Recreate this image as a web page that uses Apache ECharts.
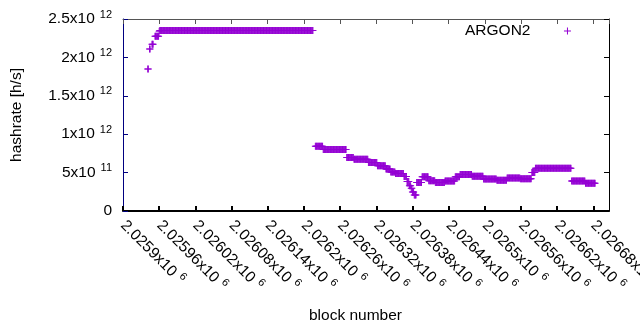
<!DOCTYPE html>
<html>
<head>
<meta charset="utf-8">
<script src="https://cdn.jsdelivr.net/npm/echarts@6/dist/echarts.min.js"></script>
<style>html,body{margin:0;padding:0;background:#fff}#c{width:640px;height:330px}</style>
</head>
<body>
<div id="c"></div>
<script>
// Runs of consecutive blocks sharing (approximately) the same hashrate
const runStart = [2025941, 2025944, 2025948, 2025953, 2025960, 2025961, 2026219, 2026232, 2026271, 2026283, 2026307, 2026322, 2026336, 2026344, 2026352, 2026366, 2026371, 2026375, 2026378, 2026380, 2026383, 2026387, 2026396, 2026407, 2026418, 2026434, 2026451, 2026459, 2026479, 2026498, 2026520, 2026537, 2026559, 2026578, 2026584, 2026644, 2026667];
const runEnd   = [2025942, 2025945, 2025950, 2025959, 2025960, 2026215, 2026231, 2026270, 2026282, 2026306, 2026321, 2026335, 2026343, 2026351, 2026365, 2026370, 2026374, 2026377, 2026379, 2026382, 2026386, 2026395, 2026406, 2026417, 2026433, 2026450, 2026458, 2026478, 2026497, 2026519, 2026536, 2026558, 2026577, 2026583, 2026643, 2026666, 2026683];
const runValueT = [1.85, 2.11, 2.17, 2.276, 2.34, 2.35, 0.842, 0.80, 0.697, 0.675, 0.632, 0.588, 0.547, 0.508, 0.488, 0.45, 0.384, 0.33, 0.296, 0.247, 0.208, 0.371, 0.447, 0.395, 0.372, 0.39, 0.447, 0.475, 0.452, 0.417, 0.40, 0.43, 0.42, 0.50, 0.556, 0.389, 0.36]; // x10^12 h/s
const seriesName = 'ARGON2';
const xMin = 2025900, xMax = 2026706, xStep = 60;
const yMin = 0, yMax = 2.5e12, yStep = 5e11;

const points = [];
for (let i = 0; i < runStart.length; i++) {
  for (let b = runStart[i]; b <= runEnd[i]; b++) points.push([b, runValueT[i] * 1e12]);
}

const FONT = 'Liberation Sans';
const FS = 15.5;
const COLOR = '#9400d3';
const plus = 'path://M0,3H7V4H0ZM3,0H4V7H3Z';

function sci(v) {
  if (v === 0) return '{m|0}';
  const e = Math.floor(Math.log10(Math.abs(v)) + 1e-9);
  const m = parseFloat((v / Math.pow(10, e)).toPrecision(6));
  return '{m|' + m + 'x10}{s|' + e + '}';
}
const rich = {
  m: { fontFamily: FONT, fontSize: FS, color: '#000' },
  s: { fontFamily: FONT, fontSize: 11, color: '#000', padding: [0, 0, 9, 5] }
};

function axLine(c, w) { return { show: true, onZero: false, lineStyle: { color: c, width: w } }; }
function axTick(c, w) { return { show: true, inside: true, length: 5, lineStyle: { color: c, width: w } }; }

const chart = echarts.init(document.getElementById('c'), null, { renderer: 'canvas' });
chart.setOption({
  animation: false,
  grid: { left: 123, right: 31, top: 19, bottom: 119, containLabel: false, outerBoundsMode: 'none' },
  legend: {
    show: true, left: 465, top: 23, padding: 0, align: 'right',
    itemWidth: 64, itemHeight: 7,
    textStyle: { fontFamily: FONT, fontSize: FS, color: '#000' },
    data: [seriesName]
  },
  xAxis: [{
    type: 'value', min: xMin, max: xMax, interval: xStep, position: 'bottom',
    axisLine: axLine('#000', 2), axisTick: axTick('#000', 2), splitLine: { show: false },
    axisLabel: { show: true, rotate: -45, margin: 12, showMaxLabel: false, formatter: v => sci(v), rich: rich },
    name: 'block number', nameLocation: 'middle', nameGap: 97,
    nameTextStyle: { fontFamily: FONT, fontSize: FS, color: '#000', padding: [0, 21, 0, 0] }
  }, {
    type: 'value', position: 'top', min: xMin, max: xMax, interval: xStep,
    axisLine: axLine('#555555', 1), axisTick: axTick('#555555', 1), splitLine: { show: false }, axisLabel: { show: false }
  }],
  yAxis: [{
    type: 'value', min: yMin, max: yMax, interval: yStep, position: 'left',
    axisLine: axLine('#000080', 1), axisTick: axTick('#000080', 1), splitLine: { show: false },
    axisLabel: { show: true, margin: 11, formatter: v => sci(v), rich: rich },
    name: 'hashrate [h/s]', nameLocation: 'middle', nameGap: 98,
    nameTextStyle: { fontFamily: FONT, fontSize: FS, color: '#000' }
  }, {
    type: 'value', position: 'right', min: yMin, max: yMax, interval: yStep,
    axisLine: axLine('black', 1), axisTick: axTick('black', 1), splitLine: { show: false }, axisLabel: { show: false }
  }],
  series: [{
    name: seriesName, type: 'scatter', xAxisIndex: 0, yAxisIndex: 0,
    symbol: plus, symbolSize: 7,
    itemStyle: { color: COLOR, opacity: 1 },
    data: points
  }]
});
</script>
</body>
</html>
